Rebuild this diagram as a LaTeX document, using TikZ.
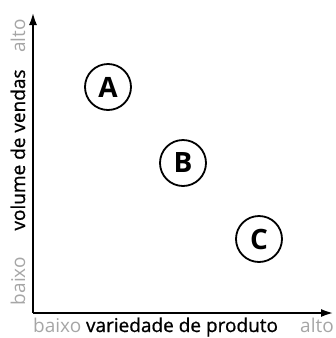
\documentclass[tikz,border=0pt]{standalone}
\usepackage{fontspec}
\setmainfont{Open Sans}
\newfontfamily\semibfont[FakeBold=0.8]{Open Sans}
\newfontfamily\heavyfont[FakeBold=0.6]{Open Sans Bold}
\usetikzlibrary{arrows.meta}
\definecolor{lightgray}{HTML}{A6A6A6}
\tikzset{
  axis/.style={line width=2.5pt, -{Latex[length=13pt,width=8pt]}},
  bubble/.style={circle, draw, line width=1.8pt, minimum size=46pt, inner sep=0pt, font=\fontsize{28}{28}\selectfont\bfseries},
  dimlabel/.style={text=lightgray, font=\fontsize{19}{19}\selectfont, inner sep=0pt},
  axlabel/.style={text=black, font=\fontsize{19}{19}\semibfont\selectfont, inner sep=0pt}
}
\begin{document}
\begin{tikzpicture}[x=1pt,y=-1pt]
\useasboundingbox (0,0) rectangle (336,338);
\coordinate (O) at (33,313);
\coordinate (Ytop) at (33,12);
\coordinate (Xend) at (334,313);
\draw[axis] (O) -- (Ytop);
\draw[axis] (O) -- (Xend);
\node[bubble] (A) at (108,87) {A};
\node[bubble] (B) at (183,163) {B};
\node[bubble] (C) at (259,239) {C};
\node[dimlabel, rotate=90, anchor=base] (yhi) at (25,36) {alto};
\node[axlabel, rotate=90, anchor=base] (ylab) at (25,150) {volume de vendas};
\node[dimlabel, rotate=90, anchor=base] (ylo) at (25,281) {baixo};
\node[dimlabel, anchor=base west] (xlo) at (33,332) {baixo};
\node[axlabel, anchor=base] (xlab) at (182,332) {variedade de produto};
\node[dimlabel, anchor=base east] (xhi) at (334,332) {alto};
\end{tikzpicture}
\end{document}
